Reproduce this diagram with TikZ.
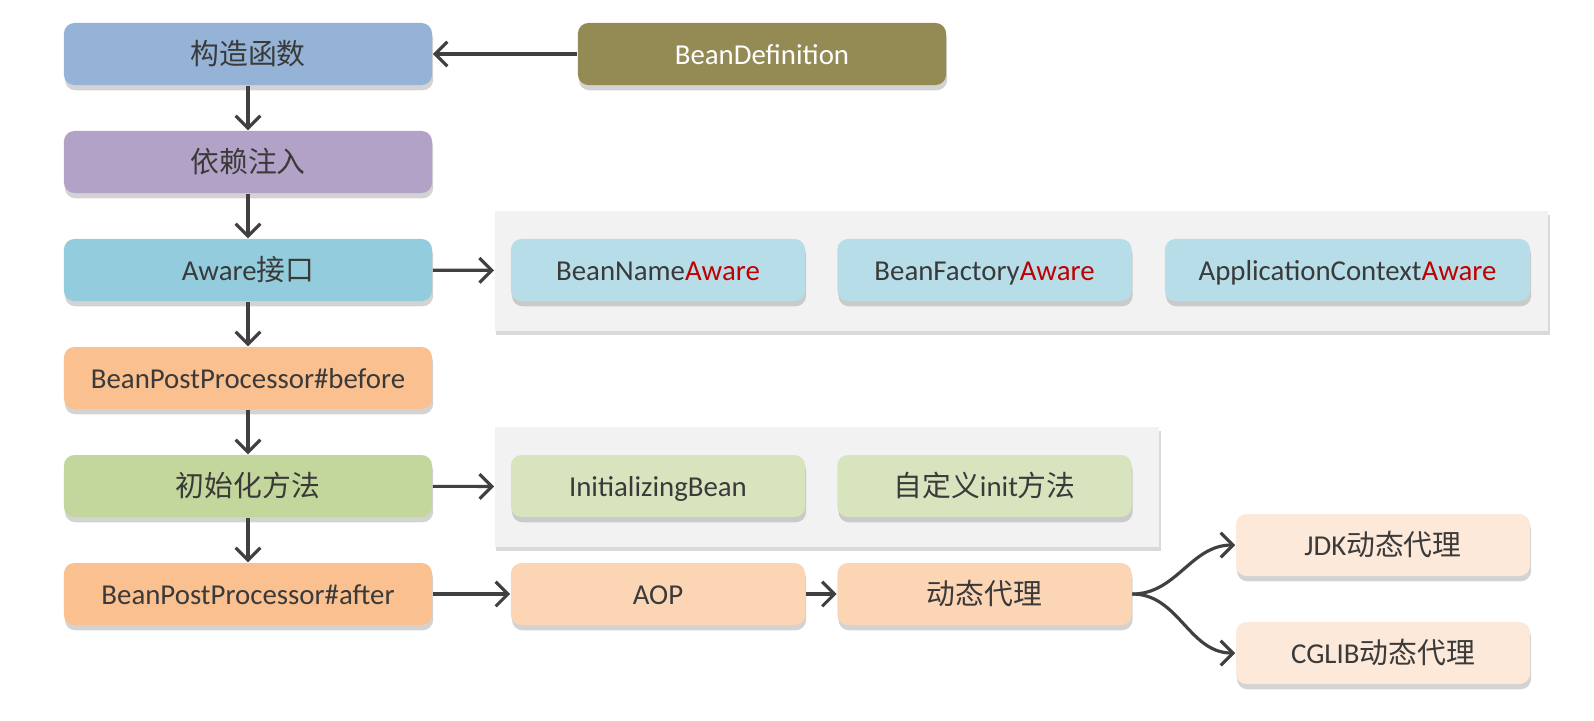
\documentclass[tikz,border=0pt]{standalone}
\usepackage{fontspec}
\setmainfont{Carlito}
\newfontfamily\cjk{Noto Sans CJK SC}
\usetikzlibrary{arrows.meta,shadows}

\definecolor{txtgray}{HTML}{3A3A3A}
\definecolor{arrgray}{HTML}{404040}
\definecolor{ctorblue}{HTML}{95B3D7}
\definecolor{beanolive}{HTML}{948A54}
\definecolor{dipurple}{HTML}{B3A2C7}
\definecolor{awareteal}{HTML}{93CDDD}
\definecolor{awarelight}{HTML}{B7DEE8}
\definecolor{awarered}{HTML}{C00000}
\definecolor{bpporange}{HTML}{FAC090}
\definecolor{initgreen}{HTML}{C3D69B}
\definecolor{initlight}{HTML}{D7E4BD}
\definecolor{aoppeach}{HTML}{FCD5B5}
\definecolor{proxylight}{HTML}{FDE9D9}
\definecolor{panelgray}{HTML}{F2F2F2}

\begin{document}
\begin{tikzpicture}[x=0.01cm, y=-0.01cm,
    box/.style={rounded corners=3pt, minimum width=3.68cm, minimum height=0.62cm,
        text=txtgray, font=\fontsize{8.2}{10}\selectfont,
        text height=1.75ex, text depth=0.45ex,
        drop shadow={shadow xshift=0.3pt, shadow yshift=-1.5pt, opacity=0.35}},
    subbox/.style={box, minimum width=2.94cm},
    panel/.style={fill=panelgray, minimum height=1.2cm,
        drop shadow={shadow xshift=0.4pt, shadow yshift=-1.2pt, opacity=0.3}},
    link/.style={draw=arrgray, line width=0.9pt, -{Straight Barb[length=3.5pt,width=7pt]}}]
    \useasboundingbox (0,0) rectangle (1594,720);

    % grey panels behind the detail boxes
    \node[panel, minimum width=10.53cm] (awarepanel) at (1021.5,271) {};
    \node[panel, minimum width=6.64cm] (initpanel) at (827,487) {};

    % main column
    \node[box, fill=ctorblue] (ctor) at (248,54) {\cjk 构造函数};
    \node[box, fill=beanolive, text=white] (bdef) at (762,54) {BeanDefinition};
    \node[box, fill=dipurple] (inject) at (248,162) {\cjk 依赖注入};
    \node[box, fill=awareteal] (aware) at (248,270) {Aware{\cjk 接口}};
    \node[box, fill=bpporange] (before) at (248,378) {BeanPostProcessor\#before};
    \node[box, fill=initgreen] (init) at (248,486) {\cjk 初始化方法};
    \node[box, fill=bpporange] (after) at (248,594) {BeanPostProcessor\#after};

    % aware interfaces
    \node[subbox, fill=awarelight] (beanname) at (658,270) {BeanName\textcolor{awarered}{Aware}};
    \node[subbox, fill=awarelight] (beanfactory) at (984.5,270) {BeanFactory\textcolor{awarered}{Aware}};
    \node[box, fill=awarelight, minimum width=3.65cm] (appctx) at (1347.5,270) {ApplicationContext\textcolor{awarered}{Aware}};

    % init methods
    \node[subbox, fill=initlight] (initbean) at (658,486) {InitializingBean};
    \node[subbox, fill=initlight] (initmethod) at (984.5,486) {{\cjk 自定义}init{\cjk 方法}};

    % proxies
    \node[subbox, fill=aoppeach] (aop) at (658,594) {AOP};
    \node[subbox, fill=aoppeach] (proxy) at (984.5,594) {\cjk 动态代理};
    \node[subbox, fill=proxylight] (jdk) at (1383,545) {JDK{\cjk 动态代理}};
    \node[subbox, fill=proxylight] (cglib) at (1383,653) {CGLIB{\cjk 动态代理}};

    \draw[link] (bdef) -- (ctor);
    \draw[link] (ctor) -- (inject);
    \draw[link] (inject) -- (aware);
    \draw[link] (aware) -- (before);
    \draw[link] (before) -- (init);
    \draw[link] (init) -- (after);
    \draw[link] (aware) -- (awarepanel);
    \draw[link] (init) -- (initpanel);
    \draw[link] (after) -- (aop);
    \draw[link] (aop) -- (proxy);
    \draw[link] (proxy.east) to[out=0, in=180] (jdk.west);
    \draw[link] (proxy.east) to[out=0, in=180] (cglib.west);
\end{tikzpicture}
\end{document}
